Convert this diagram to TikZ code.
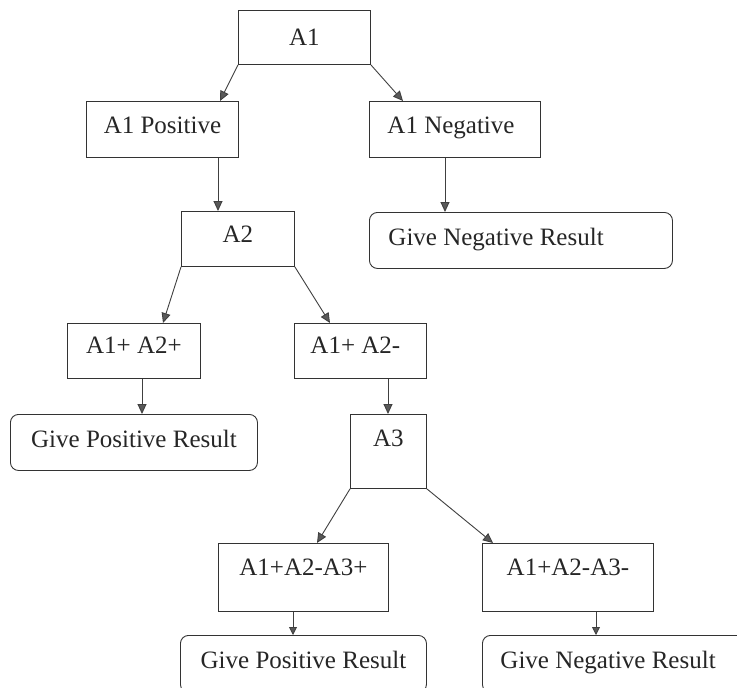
\documentclass[tikz,border=0pt]{standalone}
\usepackage{fontspec}
\setmainfont{Liberation Serif}
\usetikzlibrary{arrows.meta,calc}
\begin{document}
\begin{tikzpicture}[x=1pt,y=-1pt,
  box/.style={draw=black!80, line width=0.9pt, rectangle, anchor=north west, inner sep=0pt,
              font=\fontsize{25}{30}\selectfont, text=black!85, text height=20pt},
  rbox/.style={box, rounded corners=8pt},
  arr/.style={draw=black!75, line width=0.9pt, -{Triangle[length=10pt,width=9pt,fill=black!65]}},
  sarr/.style={draw=black!75, line width=0.9pt, -{Triangle[length=8pt,width=8pt,fill=black!65]}}]
\useasboundingbox (0,0) rectangle (737,688);
\clip (0,0) rectangle (737,688);
\fill[white] (0,0) rectangle (737,688);

\node[box, minimum width=132pt, minimum height=54pt, text depth=4pt] (a1) at (238,10) {A1};
\node[box, minimum width=152pt, minimum height=56pt, text depth=12pt] (a1p) at (86,101) {A1 Positive};
\node[box, minimum width=171pt, minimum height=56pt, text depth=12pt] (a1n) at (369,101) {\makebox[135pt][l]{A1 Negative}};
\node[rbox, minimum width=303pt, minimum height=56pt, text depth=10pt] (gn1) at (369,212) {\makebox[265pt][l]{Give Negative Result}};
\node[box, minimum width=113pt, minimum height=55pt, text depth=12pt] (a2) at (181,211) {A2};
\node[box, minimum width=133pt, minimum height=55pt, text depth=15pt] (a12p) at (67,323) {A1+ A2+};
\node[box, minimum width=132pt, minimum height=55pt, text depth=15pt] (a12m) at (294,323) {\makebox[100pt][l]{A1+ A2-}};
\node[rbox, minimum width=247pt, minimum height=56pt, text depth=10pt] (gp1) at (10,414) {Give Positive Result};
\node[box, minimum width=76pt, minimum height=74pt, text depth=30pt] (a3) at (350,414) {A3};
\node[box, minimum width=170pt, minimum height=68pt, text depth=24pt] (a123p) at (218,543) {A1+A2-A3+};
\node[box, minimum width=171pt, minimum height=68pt, text depth=24pt] (a123m) at (482,543) {A1+A2-A3-};
\node[rbox, minimum width=246pt, minimum height=57pt, text depth=11pt] (gp2) at (180,635) {Give Positive Result};
\node[rbox, minimum width=303pt, minimum height=57pt, text depth=11pt] (gn2) at (482,635) {\makebox[267pt][l]{Give Negative Result}};

\draw[arr] (a1.south west) -- ($(a1p.north west)+(134,0)$);
\draw[arr] (a1.south east) -- ($(a1n.north west)+(34,0)$);
\draw[arr] ($(a1p.south west)+(132,0)$) -- ($(a2.north west)+(37,0)$);
\draw[arr] ($(a1n.south west)+(76,0)$) -- ($(gn1.north west)+(76,0)$);
\draw[arr] (a2.south west) -- ($(a12p.north west)+(96,0)$);
\draw[arr] (a2.south east) -- ($(a12m.north west)+(36,0)$);
\draw[arr] ($(a12p.south west)+(75,0)$) -- ($(gp1.north west)+(132,0)$);
\draw[arr] ($(a12m.south west)+(94,0)$) -- ($(a3.north west)+(38,0)$);
\draw[arr] (a3.south west) -- ($(a123p.north west)+(99,0)$);
\draw[arr] (a3.south east) -- ($(a123m.north west)+(11,0)$);
\draw[sarr] ($(a123p.south west)+(75,0)$) -- ($(gp2.north west)+(113,0)$);
\draw[sarr] ($(a123m.south west)+(114,0)$) -- ($(gn2.north west)+(114,0)$);
\end{tikzpicture}
\end{document}
